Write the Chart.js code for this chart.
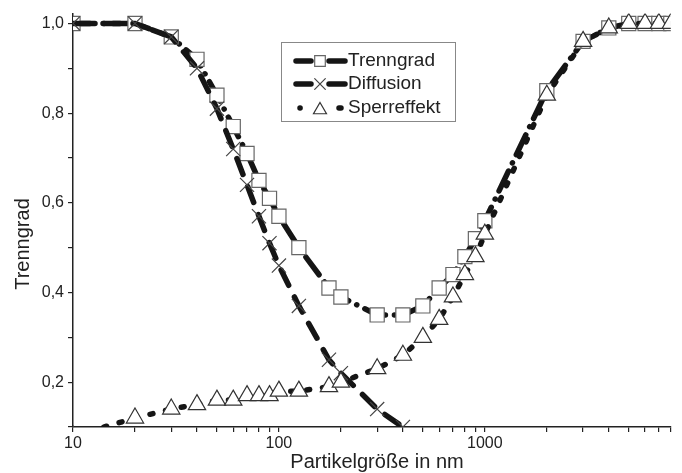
<!DOCTYPE html>
<html>
<head>
<meta charset="utf-8">
<script src="https://cdn.jsdelivr.net/npm/chart.js@4/dist/chart.umd.min.js"></script>
<style>
  html, body { margin: 0; padding: 0; background: #fff; }
  #chart { display: block; }
</style>
</head>
<body>
<canvas id="chart" width="682" height="473"></canvas>
<script>
// particle sizes in nm
const sizes = [10, 20, 30, 40, 50, 60, 70, 80, 90, 100, 125, 175, 200, 300, 400,
    500, 600, 700, 800, 900, 1000, 2000, 3000, 4000, 5000, 6000, 7000, 8000];
const diffSizes = [10, 20, 30, 40, 50, 60, 70, 80, 90, 100, 125, 175, 200, 300, 400];

const trenngrad = [1.0, 1.0, 0.97, 0.92, 0.84, 0.77, 0.71, 0.65, 0.61, 0.57, 0.50, 0.41, 0.39, 0.35, 0.35,
    0.37, 0.41, 0.44, 0.48, 0.52, 0.56, 0.85, 0.96, 0.99, 1.0, 1.0, 1.0, 1.0];
const diffusion = [1.0, 1.0, 0.97, 0.90, 0.81, 0.72, 0.64, 0.57, 0.51, 0.46, 0.37, 0.25, 0.22, 0.14, 0.10];
const sperreffekt = [0.08, 0.12, 0.14, 0.15, 0.16, 0.16, 0.17, 0.17, 0.17, 0.18, 0.18, 0.19, 0.20, 0.23, 0.26,
    0.30, 0.34, 0.39, 0.44, 0.48, 0.53, 0.84, 0.96, 0.99, 1.0, 1.0, 1.0, 1.0];

const xTicks = [10, 20, 30, 40, 50, 60, 70, 80, 90, 100, 200, 300, 400, 500, 600, 700, 800, 900,
    1000, 2000, 3000, 4000, 5000, 6000, 7000, 8000];
const xLabels = [10, 100, 1000];
const yTicks = [0.1, 0.2, 0.3, 0.4, 0.5, 0.6, 0.7, 0.8, 0.9, 1.0];
const yLabels = [0.2, 0.4, 0.6, 0.8, 1.0];

const toPoints = (xs, ys) => xs.map((x, i) => ({ x: x, y: ys[i] }));

const lineColor = '#151515';
const font = 'Liberation Sans, Arial, sans-serif';

const styles = {
    trenn: { pointStyle: 'rect', radius: 10, border: '#666', dash: [22, 9, 0.1, 9] },
    diff: { pointStyle: 'crossRot', radius: 10, border: '#444', dash: [17, 13] },
    sperr: { pointStyle: 'triangle', radius: 10, border: '#333', dash: [3, 13] }
};

// legend and axis titles drawn inside the plot
const overlay = {
    id: 'overlay',
    afterDraw(chart) {
        const c = chart.ctx;
        c.save();
        // axis titles
        c.fillStyle = '#222';
        c.font = '20px ' + font;
        c.textAlign = 'center';
        c.textBaseline = 'middle';
        c.fillText('Partikelgröße in nm', 377, 462);
        c.save();
        c.translate(23, 244);
        c.rotate(-Math.PI / 2);
        c.fillText('Trenngrad', 0, 0);
        c.restore();

        // legend box
        c.strokeStyle = '#888';
        c.lineWidth = 1;
        c.strokeRect(281.5, 42.5, 174, 79);
        const rows = [
            { label: 'Trenngrad', s: styles.trenn, y: 61 },
            { label: 'Diffusion', s: styles.diff, y: 84 },
            { label: 'Sperreffekt', s: styles.sperr, y: 108 }
        ];
        rows.forEach(r => {
            c.strokeStyle = lineColor;
            c.lineWidth = 5.5;
            c.lineCap = 'round';
            c.beginPath();
            if (r.s === styles.sperr) {
                c.moveTo(300, r.y); c.lineTo(300.1, r.y);
                c.moveTo(339, r.y); c.lineTo(341, r.y);
            } else {
                c.moveTo(296, r.y); c.lineTo(311, r.y);
                c.moveTo(329, r.y); c.lineTo(345, r.y);
            }
            c.stroke();
            c.fillStyle = '#fff';
            c.strokeStyle = r.s.border;
            c.lineWidth = 1.2;
            Chart.helpers.drawPoint(c, { pointStyle: r.s.pointStyle, radius: 7.5, borderWidth: 1.2 }, 320, r.y + (r.s === styles.sperr ? 2 : 0));
            c.fillStyle = '#222';
            c.font = '19px ' + font;
            c.textAlign = 'left';
            c.fillText(r.label, 348, r.y);
        });
        c.restore();
    }
};

function dataset(label, data, s, order) {
    return {
        label: label,
        data: data,
        order: order,
        borderColor: lineColor,
        borderWidth: 5.5,
        borderDash: s.dash,
        borderCapStyle: 'round',
        tension: 0,
        clip: 0,
        pointStyle: s.pointStyle,
        pointRadius: s.radius,
        pointBackgroundColor: '#fff',
        pointBorderColor: s.border,
        pointBorderWidth: 1.2
    };
}

new Chart(document.getElementById('chart').getContext('2d'), {
    type: 'line',
    data: {
        datasets: [
            dataset('Trenngrad', toPoints(sizes, trenngrad), styles.trenn, 3),
            dataset('Diffusion', toPoints(diffSizes, diffusion), styles.diff, 2),
            dataset('Sperreffekt', toPoints(sizes, sperreffekt), styles.sperr, 1)
        ]
    },
    options: {
        responsive: false,
        animation: false,
        layout: { padding: { top: 8, right: 10, left: 0, bottom: 0 } },
        plugins: {
            legend: { display: false },
            tooltip: { enabled: false }
        },
        scales: {
            x: {
                type: 'logarithmic',
                min: 10,
                max: 8000,
                afterBuildTicks: scale => { scale.ticks = xTicks.map(v => ({ value: v })); },
                afterFit: scale => { scale.height = 46; },
                ticks: {
                    autoSkip: false,
                    maxRotation: 0,
                    padding: 2,
                    color: '#222',
                    font: { family: font, size: 16 },
                    callback: v => xLabels.includes(v) ? String(v) : ''
                },
                grid: { drawOnChartArea: false, drawTicks: true, tickLength: 5, color: '#222', lineWidth: 1.2 },
                border: { display: true, color: '#222', width: 1.5 }
            },
            y: {
                min: 0.1,
                max: 1.022,
                afterBuildTicks: scale => { scale.ticks = yTicks.map(v => ({ value: v })); },
                afterFit: scale => { scale.width = 73; },
                ticks: {
                    padding: 4,
                    color: '#222',
                    font: { family: font, size: 16 },
                    callback: v => yLabels.some(l => Math.abs(l - v) < 1e-6) ? v.toFixed(1).replace('.', ',') : ''
                },
                grid: { drawOnChartArea: false, drawTicks: true, tickLength: 5, color: '#222', lineWidth: 1.2 },
                border: { display: true, color: '#222', width: 1.5 }
            }
        }
    },
    plugins: [overlay]
});
</script>
</body>
</html>
